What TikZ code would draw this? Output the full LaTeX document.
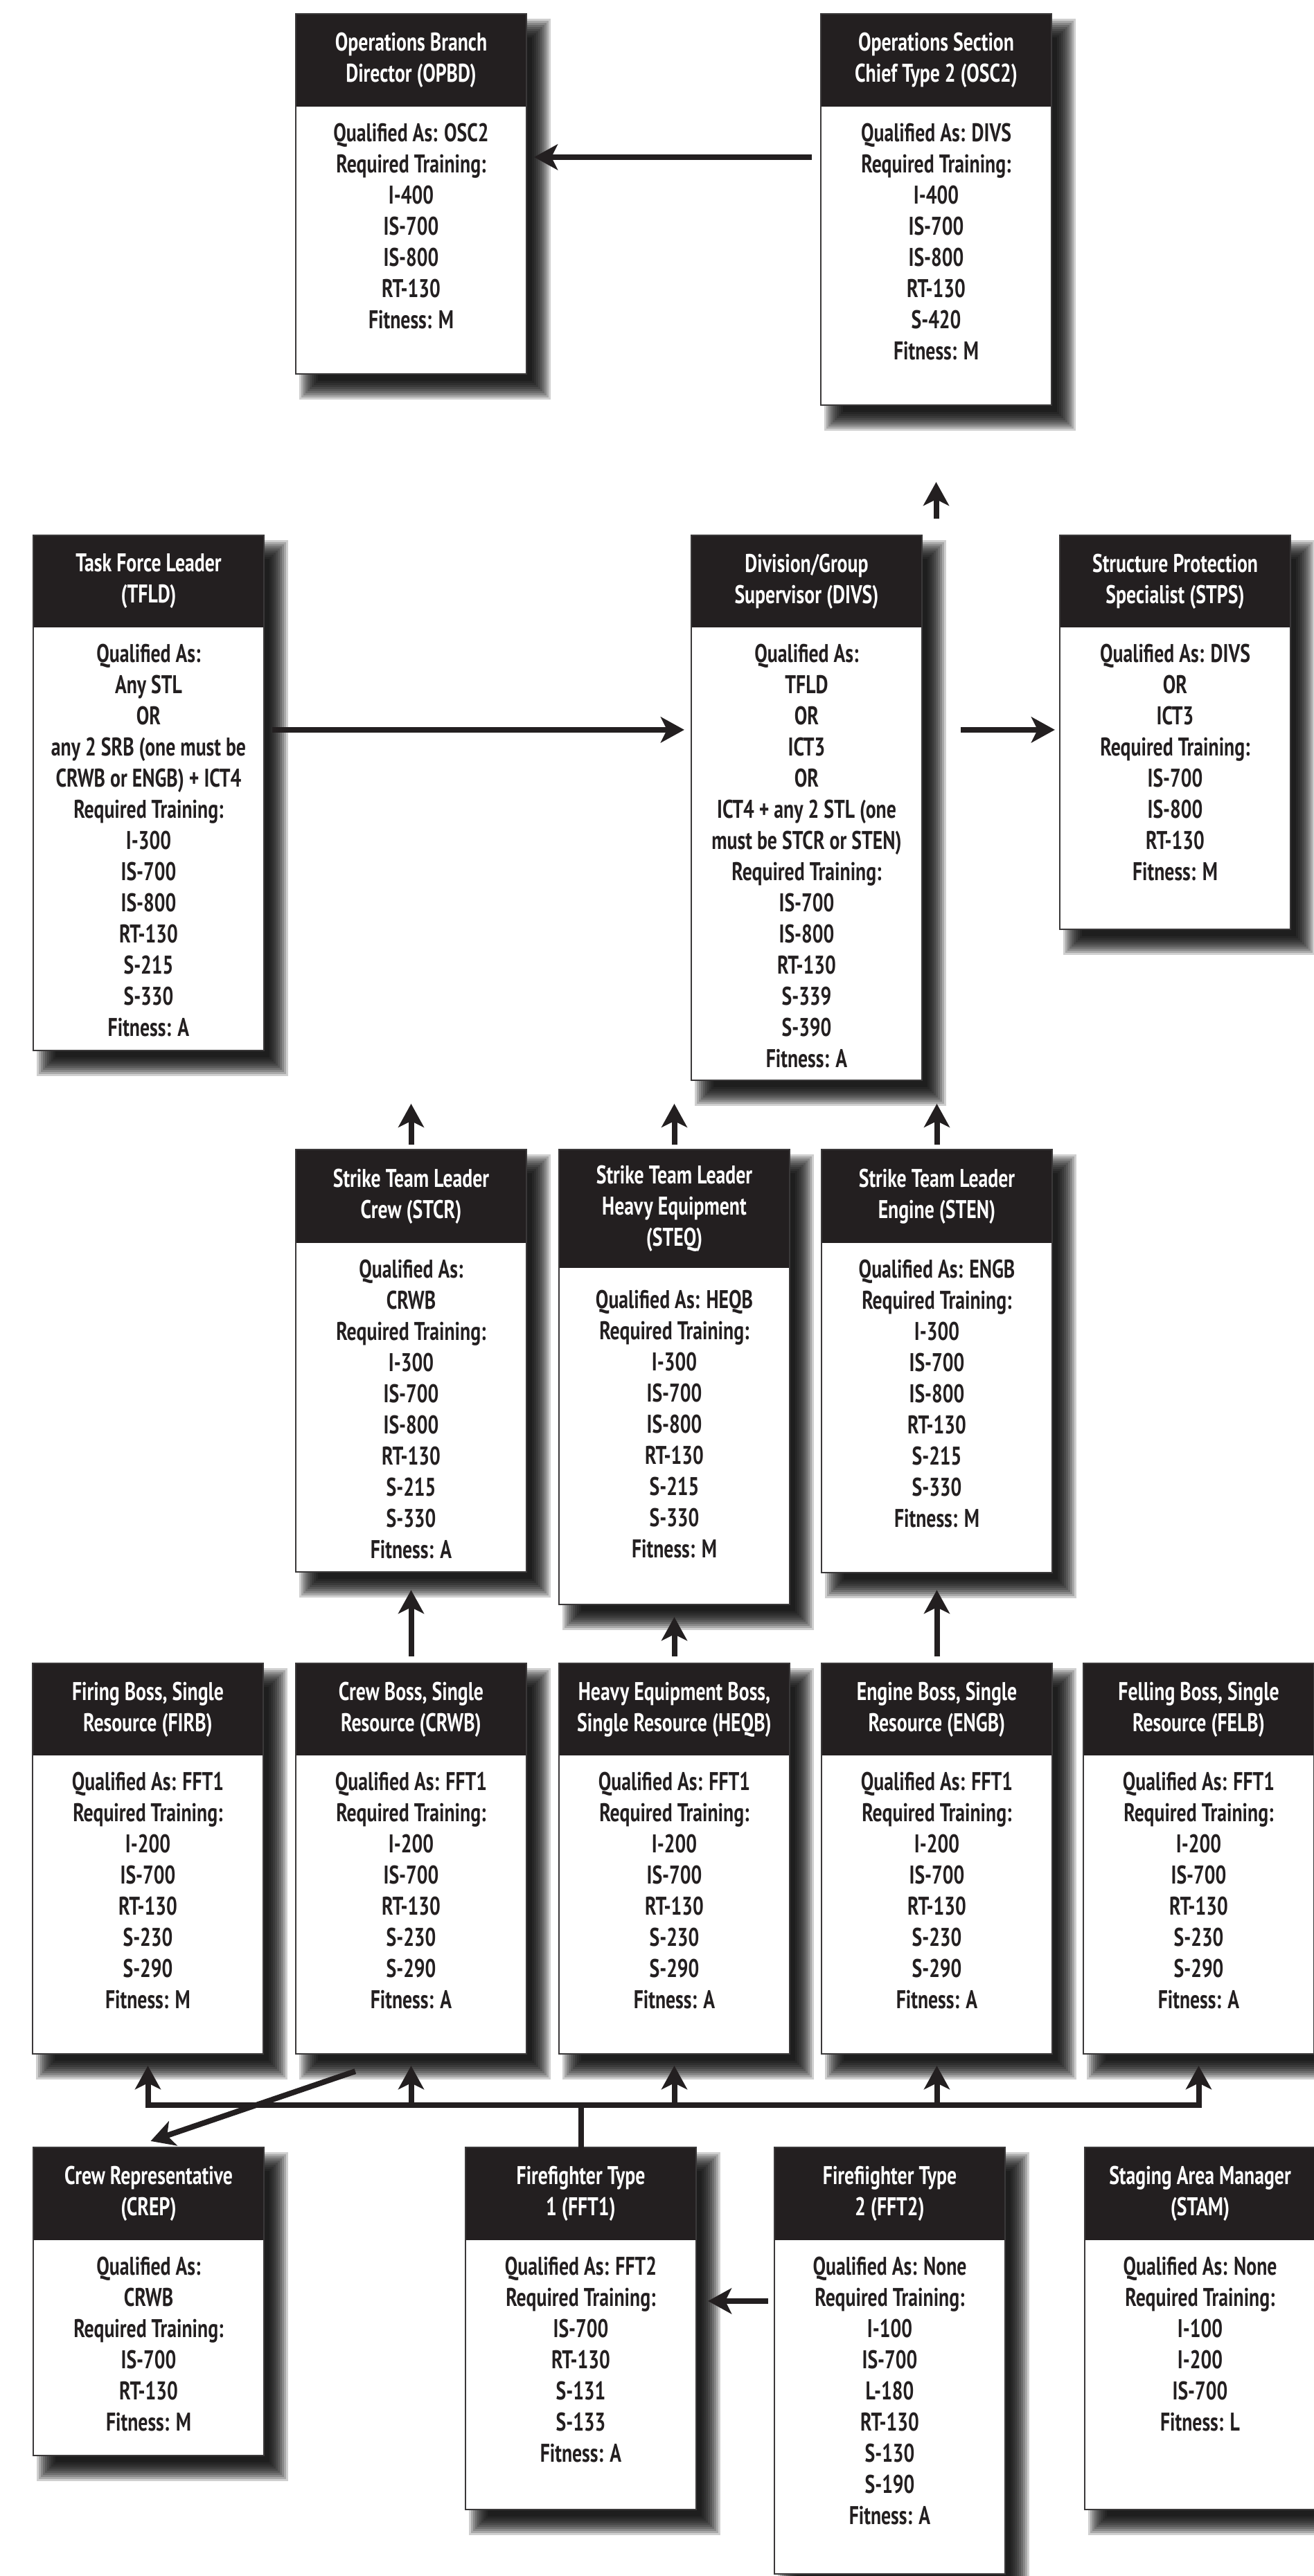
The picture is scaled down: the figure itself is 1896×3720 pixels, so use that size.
\documentclass[tikz,border=0pt]{standalone}
\usepackage{fontspec}
\setmainfont{PT Sans}[FakeStretch=0.75]
\usetikzlibrary{arrows.meta,calc,fit}
\definecolor{ink}{HTML}{231F20}
\definecolor{framec}{HTML}{3A3839}
\tikzset{
  boxframe/.style={draw=framec, line width=1.1pt, inner sep=0pt},
  headtext/.style={text=white, font=\bfseries\fontsize{18.5}{22.5}\selectfont, align=center, inner sep=0pt},
  bodytext/.style={text=ink, font=\bfseries\fontsize{18.5}{22.5}\selectfont, align=center, inner sep=0pt, anchor=north},
  conn/.style={draw=ink, line width=4pt, -{Stealth[length=17pt,width=18.5pt,inset=4.5pt]}},
  busline/.style={draw=ink, line width=4pt, line cap=rect},
}
\newcommand\jobbox[8]{%
  \foreach \e in {15,12,...,-12} {\fill[black, fill opacity=0.19] ({#2+20-\e},{#3+22-\e}) rectangle ({#2+353+\e},{#5+22+\e});}
  \fill[white] (#2,#3) rectangle ({#2+333},#5);
  \fill[ink] (#2,#3) rectangle ({#2+333},#4);
  \path (#2,#3) coordinate (#1nw) ({#2+333},#5) coordinate (#1se);
  \node[boxframe, fit=(#1nw)(#1se)] (#1) {};
  \node[headtext] at ({#2+166.5},{(#3+#4)/2}) {#6};
  \node[bodytext] at ({#2+166.5},{#4+#8}) {\rule{0pt}{14pt}#7};
}
\begin{document}
\begin{tikzpicture}[x=0.5pt,y=-0.5pt]
\useasboundingbox (0,0) rectangle (1896,3720);
\fill[white] (0,0) rectangle (1896,3720);

% Row 1
\jobbox{opbd}{427}{20}{154}{540}{Operations Branch\\Director (OPBD)}{Qualified As: OSC2\\Required Training:\\I-400\\IS-700\\IS-800\\RT-130\\Fitness: M}{22}
\jobbox{osc2}{1185}{20}{154}{585}{Operations Section\\Chief Type 2 (OSC2)}{Qualified As: DIVS\\Required Training:\\I-400\\IS-700\\IS-800\\RT-130\\S-420\\Fitness: M}{22}

% Row 2
\jobbox{tfld}{48}{773}{906}{1517}{Task Force Leader\\(TFLD)}{Qualified As:\\Any STL\\OR\\any 2 SRB (one must be\\CRWB or ENGB) + ICT4\\Required Training:\\I-300\\IS-700\\IS-800\\RT-130\\S-215\\S-330\\Fitness: A}{22}
\jobbox{divs}{998}{773}{906}{1560}{Division/Group\\Supervisor (DIVS)}{Qualified As:\\TFLD\\OR\\ICT3\\OR\\ICT4 + any 2 STL (one\\must be STCR or STEN)\\Required Training:\\IS-700\\IS-800\\RT-130\\S-339\\S-390\\Fitness: A}{22}
\jobbox{stps}{1530}{773}{906}{1342}{Structure Protection\\Specialist (STPS)}{Qualified As: DIVS\\OR\\ICT3\\Required Training:\\IS-700\\IS-800\\RT-130\\Fitness: M}{22}

% Row 3
\jobbox{stcr}{427}{1660}{1795}{2270}{Strike Team Leader\\Crew (STCR)}{Qualified As:\\CRWB\\Required Training:\\I-300\\IS-700\\IS-800\\RT-130\\S-215\\S-330\\Fitness: A}{22}
\jobbox{steq}{807}{1660}{1831}{2317}{Strike Team Leader\\Heavy Equipment\\(STEQ)}{Qualified As: HEQB\\Required Training:\\I-300\\IS-700\\IS-800\\RT-130\\S-215\\S-330\\Fitness: M}{30}
\jobbox{sten}{1186}{1660}{1795}{2271}{Strike Team Leader\\Engine (STEN)}{Qualified As: ENGB\\Required Training:\\I-300\\IS-700\\IS-800\\RT-130\\S-215\\S-330\\Fitness: M}{22}

% Row 4
\jobbox{firb}{47}{2402}{2535}{2966}{Firing Boss, Single\\Resource (FIRB)}{Qualified As: FFT1\\Required Training:\\I-200\\IS-700\\RT-130\\S-230\\S-290\\Fitness: M}{22}
\jobbox{crwb}{427}{2402}{2535}{2966}{Crew Boss, Single\\Resource (CRWB)}{Qualified As: FFT1\\Required Training:\\I-200\\IS-700\\RT-130\\S-230\\S-290\\Fitness: A}{22}
\jobbox{heqb}{807}{2402}{2535}{2966}{Heavy Equipment Boss,\\Single Resource (HEQB)}{Qualified As: FFT1\\Required Training:\\I-200\\IS-700\\RT-130\\S-230\\S-290\\Fitness: A}{22}
\jobbox{engb}{1186}{2402}{2535}{2966}{Engine Boss, Single\\Resource (ENGB)}{Qualified As: FFT1\\Required Training:\\I-200\\IS-700\\RT-130\\S-230\\S-290\\Fitness: A}{22}
\jobbox{felb}{1564}{2402}{2535}{2966}{Felling Boss, Single\\Resource (FELB)}{Qualified As: FFT1\\Required Training:\\I-200\\IS-700\\RT-130\\S-230\\S-290\\Fitness: A}{22}

% Row 5
\jobbox{crep}{48}{3101}{3235}{3546}{Crew Representative\\(CREP)}{Qualified As:\\CRWB\\Required Training:\\IS-700\\RT-130\\Fitness: M}{22}
\jobbox{fft1}{672}{3101}{3235}{3624}{Firefighter Type\\1 (FFT1)}{Qualified As: FFT2\\Required Training:\\IS-700\\RT-130\\S-131\\S-133\\Fitness: A}{22}
\jobbox{fft2}{1118}{3101}{3235}{3717}{Firefiighter Type\\2 (FFT2)}{Qualified As: None\\Required Training:\\I-100\\IS-700\\L-180\\RT-130\\S-130\\S-190\\Fitness: A}{22}
\jobbox{stam}{1566}{3101}{3235}{3624}{Staging Area Manager\\(STAM)}{Qualified As: None\\Required Training:\\I-100\\I-200\\IS-700\\Fitness: L}{22}

% Connectors
\draw[conn] ($(osc2.north west)+(-12,208)$) -- ($(opbd.north east)+(10,208)$);
\draw[conn] ($(osc2.south)+(0,163)$) -- ($(osc2.south)+(0,110)$);
\draw[conn] ($(tfld.north east)+(11,282)$) -- ($(divs.north west)+(-9,282)$);
\draw[conn] ($(divs.north east)+(55,282)$) -- ($(stps.north west)+(-6,282)$);
\foreach \b in {stcr,steq,sten} {\draw[conn] ($(\b.north)+(0,-6)$) -- ($(\b.north)+(0,-65)$);}
\draw[conn] ($(crwb.north)+(0,-9)$) -- ($(stcr.south)+(0,25)$);
\draw[conn] ($(heqb.north)+(0,-9)$) -- ($(steq.south)+(0,17)$);
\draw[conn] ($(engb.north)+(0,-9)$) -- ($(sten.south)+(0,24)$);
\coordinate (busL) at ($(firb.south)+(0,73)$);
\coordinate (busR) at ($(felb.south)+(0,73)$);
\draw[busline] (busL) -- (busR);
\draw[busline] (fft1.north) -- (fft1.north |- busL);
\foreach \b in {firb,crwb,heqb,engb,felb} {\draw[conn] (\b.south |- busL) -- ($(\b.south)+(0,16)$);}
\draw[conn] ($(crwb.south west)+(87,24)$) -- ($(crep.north)+(3,-8)$);
\draw[conn] ($(fft2.north west)+(-8,223)$) -- ($(fft1.north east)+(16,223)$);
\end{tikzpicture}
\end{document}
